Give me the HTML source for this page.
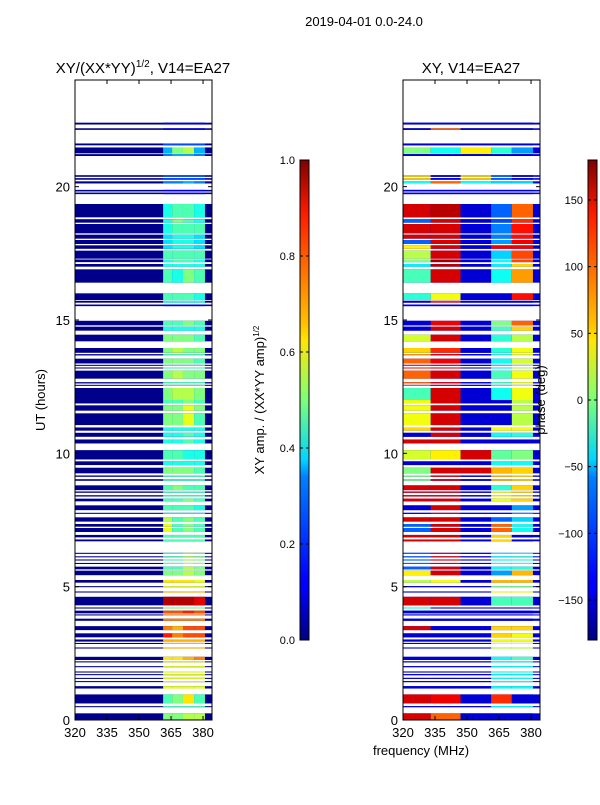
<!DOCTYPE html>
<html><head><meta charset="utf-8"><style>
body{margin:0;background:#fff;}
svg text{font-family:"Liberation Sans",sans-serif;fill:#000;}
</style></head><body>
<svg id="fig" width="600" height="800" viewBox="0 0 600 800" xmlns="http://www.w3.org/2000/svg">
<defs>
<linearGradient id="jetv" x1="0" y1="1" x2="0" y2="0">
<stop offset="0" stop-color="#00007f"/><stop offset="0.11" stop-color="#0000ff"/><stop offset="0.125" stop-color="#0000ff"/><stop offset="0.34" stop-color="#0080ff"/><stop offset="0.375" stop-color="#00d4ff"/><stop offset="0.5" stop-color="#7dff7a"/><stop offset="0.625" stop-color="#ffe600"/><stop offset="0.66" stop-color="#ffc000"/><stop offset="0.89" stop-color="#ff1a00"/><stop offset="1" stop-color="#7f0000"/>
</linearGradient>
</defs>
<text x="364" y="26" font-size="13" text-anchor="middle">2019-04-01 0.0-24.0</text>
<g id="p1"></g>
<g id="p2"></g>
<g id="cb"></g>
</svg>
<script>
const starts=[22.33,22.13,21.55,21.25,21.15,20.37,20.26,20.12,19.82,19.72,18.85,18.65,18.25,18.05,17.85,17.67,17.3,17.17,17.0,16.4,15.75,15.65,15.52,14.8,14.6,14.2,13.77,13.67,13.37,13.28,13.18,12.8,12.62,12.53,12.0,11.87,11.6,11.06,10.85,10.62,10.37,9.77,9.56,9.25,9.12,8.97,8.62,8.52,8.38,8.2,7.87,7.73,7.44,7.25,7.05,6.85,6.7,6.23,6.1,5.98,5.85,5.65,5.43,5.15,4.98,4.78,4.3,4.18,4.0,3.92,3.72,3.37,3.1,2.94,2.85,2.68,2.25,2.16,1.98,1.78,1.68,1.54,1.42,1.18,0.62,0.48,0.02];
const ends=[22.4,22.19,21.62,21.47,21.22,20.43,20.32,20.2,19.88,19.78,19.35,18.78,18.6,18.2,18.0,17.8,17.6,17.27,17.1,16.9,16.0,15.72,15.58,14.97,14.75,14.45,13.95,13.72,13.55,13.32,13.22,13.1,12.67,12.57,12.45,12.0,11.8,11.5,10.97,10.77,10.52,10.12,9.7,9.46,9.17,9.03,8.8,8.57,8.43,8.3,8.05,7.77,7.6,7.35,7.2,6.94,6.77,6.27,6.14,6.02,5.89,5.75,5.6,5.25,5.02,4.82,4.62,4.22,4.1,3.96,3.8,3.52,3.25,3.02,2.89,2.72,2.37,2.2,2.02,1.82,1.72,1.58,1.46,1.27,0.96,0.52,0.25];
const amps=[[.1,.1,.1,.1],[.1,.1,.1,.1],[.2,.2,.2,.2],[.3,.5,.55,.3],[.25,.3,.3,.25],[.2,.2,.2,.2],[.2,.2,.2,.2],[.25,.25,.3,.25],[.1,.1,.1,.1],[.1,.1,.1,.1],
[.4,.45,.45,.4],[.4,.5,.45,.4],[.4,.45,.45,.45],[.35,.4,.4,.35],[.35,.4,.4,.35],[.35,.4,.4,.35],[.45,.45,.45,.45],[.4,.45,.45,.4],[.4,.4,.4,.4],[.45,.4,.5,.45],
[.45,.45,.45,.4],[.4,.4,.4,.4],[.1,.1,.1,.1],[.45,.45,.5,.45],[.4,.4,.4,.4],[.5,.5,.5,.45],[.5,.55,.5,.5],[.45,.45,.45,.45],[.5,.5,.5,.45],[.45,.45,.45,.45],
[.45,.45,.45,.45],[.5,.55,.5,.5],[.45,.45,.45,.45],[.45,.45,.45,.45],[.5,.55,.55,.5],[.45,.45,.5,.45],[.5,.5,.6,.5],[.5,.5,.6,.45],[.4,.4,.4,.4],[.4,.4,.45,.4],
[.4,.4,.45,.4],[.45,.45,.4,.4],[.4,.4,.4,.4],[.5,.5,.5,.45],[.45,.45,.45,.45],[.45,.45,.45,.45],[.45,.5,.45,.45],[.45,.45,.45,.45],[.45,.45,.45,.45],[.45,.45,.5,.45],
[.45,.45,.45,.4],[.4,.4,.4,.4],[.55,.45,.5,.45],[.6,.45,.5,.45],[.6,.45,.5,.45],[.45,.45,.45,.45],[.45,.45,.45,.45],[.45,.45,.55,.5],[.45,.45,.55,.5],[.45,.45,.55,.5],
[.45,.45,.55,.5],[.45,.45,.55,.5],[.5,.5,.55,.5],[.65,.65,.65,.6],[.6,.6,.6,.6],[.7,.7,.7,.7],[.95,.95,.95,.9],[.5,.5,.5,.5],[.8,.8,.85,.8],[.75,.75,.75,.75],
[.75,.75,.75,.75],[.75,.7,.8,.8],[.85,.75,.8,.8],[.7,.7,.7,.7],[.7,.7,.7,.7],[.7,.7,.7,.7],[.65,.65,.7,.75],[.6,.6,.6,.6],[.6,.6,.6,.6],[.6,.6,.6,.6],
[.6,.6,.6,.6],[.6,.6,.6,.6],[.6,.6,.6,.6],[.6,.6,.6,.6],[.45,.5,.65,.45],[.45,.45,.45,.45],[.5,.5,.55,.55]];
const phases=[[-150,-150,-150,-150,-150],[-160,100,-160,-160,-160],[-150,-150,-150,-150,-150],[0,-40,50,-30,-80],[-150,-150,-150,-150,-150],[60,-150,60,-100,-150],[60,-150,60,-100,-150],[-40,100,-40,-60,-60],[-150,-150,-150,-150,-150],[-150,-150,-150,-150,-150],
[150,160,-150,-100,100],[-100,150,-150,-110,120],[150,150,-150,-90,130],[150,150,-150,-90,130],[-100,150,-150,-80,140],[50,150,-150,140,140],[20,150,-150,-60,110],[0,170,-150,-40,110],[-50,160,-150,-50,60],[-20,150,-150,-40,80],
[-30,40,-150,-150,130],[-150,120,-150,-150,-150],[-150,-150,-150,-150,-150],[-150,140,-150,0,100],[-150,150,-150,-20,60],[30,150,-150,-30,20],[60,120,-150,-30,40],[80,150,-150,-30,40],[100,140,-150,-40,30],[120,140,-150,-50,20],
[120,140,-150,-50,20],[100,150,-150,-20,40],[100,150,-150,-20,40],[100,150,-150,-20,40],[-20,150,-150,-40,40],[40,150,-150,-150,20],[40,150,-150,-150,20],[40,150,-150,-150,20],[60,150,-150,40,40],[-150,150,-150,-40,-30],
[150,150,-150,-150,-150],[30,50,150,-10,0],[-150,-150,-150,-40,-40],[0,150,150,70,60],[0,150,-150,70,60],[0,150,-150,70,60],[150,150,-150,-30,60],[150,150,-150,40,60],[150,150,-150,40,60],[150,150,-150,40,60],
[-150,150,-150,-150,-80],[-150,150,-150,-150,-80],[150,150,-150,-100,-60],[-100,150,-150,100,-40],[-100,150,-150,100,-40],[150,150,-150,60,-150],[150,150,-150,60,-150],[-100,150,-150,-40,-30],[-100,150,-150,-40,-30],[-100,150,-150,-40,-30],
[-100,150,-150,-40,-30],[-100,150,-150,-40,-30],[50,150,-150,-80,70],[20,40,-150,70,70],[-150,-150,-150,0,0],[-150,-150,-150,40,40],[150,150,-150,-20,-20],[-30,-150,-150,-150,-150],[-150,-150,-150,-150,-150],[-150,-150,-150,-150,-150],
[-150,-150,-150,-150,-150],[150,-150,-150,60,60],[-150,-150,-150,60,40],[-150,-150,-150,40,40],[-150,-150,-150,40,40],[-150,-150,-150,20,20],[-150,-150,-150,-40,-20],[-150,-150,-150,-40,-40],[-150,-150,-150,-40,-40],[-150,-150,-150,-40,-40],
[-150,-150,-150,-40,-40],[-150,-150,-150,-40,-40],[-150,-150,-150,-40,-40],[-150,-150,-150,-40,-40],[150,140,-150,120,-150],[-150,-150,-150,-40,-40],[150,100,-150,-150,-150]];
const ampEdges=[361.3,365.5,370.6,375.8,380.9];
const phaseEdges=[320,333,347,361.3,371,380.9];
const xTicks=[320,335,350,365,380];
const yTicks=[0,5,10,15,20];
const ampTicks=[0.0,0.2,0.4,0.6,0.8,1.0];
const phaseTicks=[-150,-100,-50,0,50,100,150];

const NS="http://www.w3.org/2000/svg";
function mk(tag,attrs,parent){const e=document.createElementNS(NS,tag);for(const k in attrs)e.setAttribute(k,attrs[k]);parent.appendChild(e);return e;}
function jet(v){v=Math.max(0,Math.min(1,v));const c=t=>Math.round(255*Math.max(0,Math.min(1,t)));return `rgb(${c(1.5-Math.abs(4*v-3))},${c(1.5-Math.abs(4*v-2))},${c(1.5-Math.abs(4*v-1))})`;}
const FMIN=320,FMAX=384.2,H=24,TOP=80,BOT=720,W=137;
function yS(h){return BOT-h*(BOT-TOP)/H;}
function panel(g,x0,title,isPhase,showYLabels){
  const xS=f=>x0+(f-FMIN)*W/(FMAX-FMIN);
  for(let i=0;i<starts.length;i++){
    const y1=yS(ends[i]),y2=yS(starts[i]);
    let r=mk('rect',{x:x0,y:y1,width:W,height:y2-y1,fill:isPhase?jet((-150+180)/360):jet(0.01)},g);
    
    
    if(isPhase){
      for(let j=0;j<5;j++){
        const c=mk('rect',{x:xS(phaseEdges[j]),y:y1,width:xS(phaseEdges[j+1])-xS(phaseEdges[j]),height:y2-y1,fill:jet((phases[i][j]+180)/360)},g);
        
        
      }
    } else {
      for(let j=0;j<4;j++){
        const c=mk('rect',{x:xS(ampEdges[j]),y:y1,width:xS(ampEdges[j+1])-xS(ampEdges[j]),height:y2-y1,fill:jet(amps[i][j])},g);
        
        
      }
    }
  }
  const fr=mk('rect',{x:x0,y:TOP,width:W,height:BOT-TOP,fill:'none',stroke:'#000','stroke-width':1},g);
  
  
  xTicks.forEach(t=>{const x=xS(t);
    mk('line',{x1:x,x2:x,y1:BOT,y2:BOT-4,stroke:'#000'},g);mk('line',{x1:x,x2:x,y1:TOP,y2:TOP+4,stroke:'#000'},g);
    const tx=mk('text',{x:x,y:BOT+17,'font-size':13,'text-anchor':'middle'},g);tx.textContent=t;
    
    
  });
  yTicks.forEach(t=>{const y=yS(t);
    mk('line',{x1:x0,x2:x0+4,y1:y,y2:y,stroke:'#000'},g);mk('line',{x1:x0+W,x2:x0+W-4,y1:y,y2:y,stroke:'#000'},g);
    const tx=mk('text',{x:x0-5,y:y+5,'font-size':13,'text-anchor':'end'},g);tx.textContent=t;
    
    
  });
}
const p1=document.getElementById('p1'),p2=document.getElementById('p2'),cb=document.getElementById('cb');
panel(p1,75,'',false);
panel(p2,403,'',true);
function txt(parent,s,attrs,name){const t=mk('text',attrs,parent);t.innerHTML=s;return t;}
txt(p1,'XY/(XX*YY)<tspan font-size="10" dy="-6">1/2</tspan><tspan dy="6">, V14=EA27</tspan>',{x:143,y:73,'font-size':15,'text-anchor':'middle'},'amp-panel-title');
txt(p2,'XY, V14=EA27',{x:471,y:73,'font-size':15,'text-anchor':'middle'},'phase-panel-title');
txt(p1,'UT (hours)',{x:45,y:400,'font-size':13,'text-anchor':'middle',transform:'rotate(-90 45 400)'},'y-axis-title');
txt(p2,'frequency (MHz)',{x:421,y:755,'font-size':13,'text-anchor':'middle'},'x-axis-title');
function colorbar(x0,ticks,vmin,vmax,name){
  const r=mk('rect',{x:x0,y:160,width:9,height:480,fill:'url(#jetv)',stroke:'#000','stroke-width':1},cb);
  
  
  ticks.forEach(t=>{const y=640-(t-vmin)/(vmax-vmin)*480;
    mk('line',{x1:x0,x2:x0+3,y1:y,y2:y,stroke:'#000'},cb);mk('line',{x1:x0+9,x2:x0+6,y1:y,y2:y,stroke:'#000'},cb);
    const tx=mk('text',{x:x0-5,y:y+4,'font-size':11,'text-anchor':'end'},cb);tx.textContent=(name==='amp-colorbar'?t.toFixed(1):(t<0?'\u2212'+(-t):t));
    
    
  });
}
colorbar(300,ampTicks,0,1,'amp-colorbar');
colorbar(588,phaseTicks,-180,180,'phase-colorbar');
txt(cb,'XY amp. / (XX*YY amp)<tspan font-size="8" dy="-5">1/2</tspan>',{x:264,y:400,'font-size':13,'text-anchor':'middle',transform:'rotate(-90 264 400)'},'amp-colorbar-label');
txt(cb,'phase (deg)',{x:545,y:400,'font-size':13,'text-anchor':'middle',transform:'rotate(-90 545 400)'},'phase-colorbar-label');
</script>
</body></html>
